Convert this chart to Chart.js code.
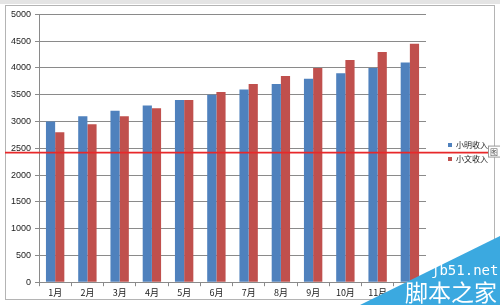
<!DOCTYPE html>
<html>
<head>
<meta charset="utf-8">
<script src="https://cdn.jsdelivr.net/npm/chart.js@4"></script>
<style>
  html, body { margin: 0; padding: 0; background: #fff; }
  body { width: 500px; height: 305px; position: relative; overflow: hidden; font-family: "Noto Sans CJK SC", "DejaVu Sans", sans-serif; }
  #topbar { position: absolute; left: 0; top: 0; width: 500px; height: 4px; background: #e4e4e4; }
  #frame { position: absolute; left: 5px; top: 5px; width: 490px; height: 295px; border: 1px solid #b4b4b4; box-sizing: border-box; }
  #myChart { position: absolute; left: 5px; top: 5px; }
  #mark { position: absolute; left: 0; top: 0; width: 500px; height: 305px; background: #3ba9e0;
          clip-path: polygon(360px 305px, 500px 236px, 500px 305px); }
  #mark1 { position: absolute; left: 431px; top: 262px; color: #fff; font: 14px "DejaVu Sans Mono", monospace; }
  #mark2 { position: absolute; left: 405px; top: 276px; color: #fff; font: 23px "Noto Sans CJK SC", sans-serif; line-height: 30px; }
</style>
</head>
<body>
<div id="topbar"></div>
<div id="frame"></div>
<canvas id="myChart" width="495" height="294"></canvas>
<div id="mark"></div>
<div id="mark1">jb51.net</div>
<div id="mark2">脚本之家</div>
<script>
var months = ['1月', '2月', '3月', '4月', '5月', '6月', '7月', '8月', '9月', '10月', '11月', '12月'];
var xiaoming = [3000, 3100, 3200, 3300, 3400, 3500, 3600, 3700, 3800, 3900, 4000, 4100];
var xiaowen = [2800, 2950, 3100, 3250, 3400, 3550, 3700, 3850, 4000, 4150, 4300, 4450];
var markValue = 2420;

// red marker line across the whole picture
var redLine = {
    id: 'redLine',
    afterLayout: function (chart) {
        // push the legend right and up, like the Excel layout
        chart.legend.left += 16;
        chart.legend.right += 16;
        chart.legend.top -= 4;
        chart.legend.bottom -= 4;
    },
    afterDraw: function (chart) {
        var c = chart.ctx;
        var y = chart.scales.y.getPixelForValue(markValue);
        c.save();
        c.strokeStyle = '#e8282a';
        c.lineWidth = 1.6;
        c.beginPath();
        c.moveTo(-5, y);
        c.lineTo(chart.width, y);
        c.stroke();
        // small label box
        c.fillStyle = '#fff';
        c.strokeStyle = '#9a9a9a';
        c.lineWidth = 1;
        c.fillRect(483.5, y - 6.5, 12, 11);
        c.strokeRect(483.5, y - 6.5, 12, 11);
        c.fillStyle = '#555';
        c.font = '8px "Noto Sans CJK SC"';
        c.fillText('图', 485, y + 2);
        c.restore();
    }
};

var ctx = document.getElementById('myChart').getContext('2d');

var config = {
    type: 'bar',
    data: {
        labels: months,
        datasets: [{
            label: '小明收入',
            data: xiaoming,
            backgroundColor: '#4f81bd'
        }, {
            label: '小文收入',
            data: xiaowen,
            backgroundColor: '#c0504d'
        }]
    },
    options: {
        responsive: false,
        animation: false,
        categoryPercentage: 0.57,
        barPercentage: 1,
        layout: { padding: { left: 2, top: 8, right: 18, bottom: 0 } },
        plugins: {
            legend: {
                position: 'right',
                labels: {
                    boxWidth: 4,
                    boxHeight: 4,
                    padding: 6,
                    color: '#222',
                    font: { size: 8, family: 'Noto Sans CJK SC' }
                }
            },
            tooltip: { enabled: false }
        },
        scales: {
            x: {
                grid: { display: true, drawOnChartArea: false, offset: true, color: '#8a8a8a', tickLength: 4 },
                border: { color: '#8a8a8a' },
                ticks: { color: '#222', font: { size: 9, family: 'Noto Sans CJK SC' }, maxRotation: 0, autoSkip: false, padding: 1 }
            },
            y: {
                min: 0,
                max: 5000,
                ticks: {
                    stepSize: 500,
                    color: '#222',
                    font: { size: 9, family: 'Liberation Sans' },
                    padding: 4,
                    callback: function (v) { return String(v); }
                },
                grid: { color: '#8a8a8a', tickLength: 4 },
                border: { color: '#8a8a8a' }
            }
        }
    },
    plugins: [redLine]
};

var myChart = new Chart(ctx, config);
</script>
</body>
</html>
